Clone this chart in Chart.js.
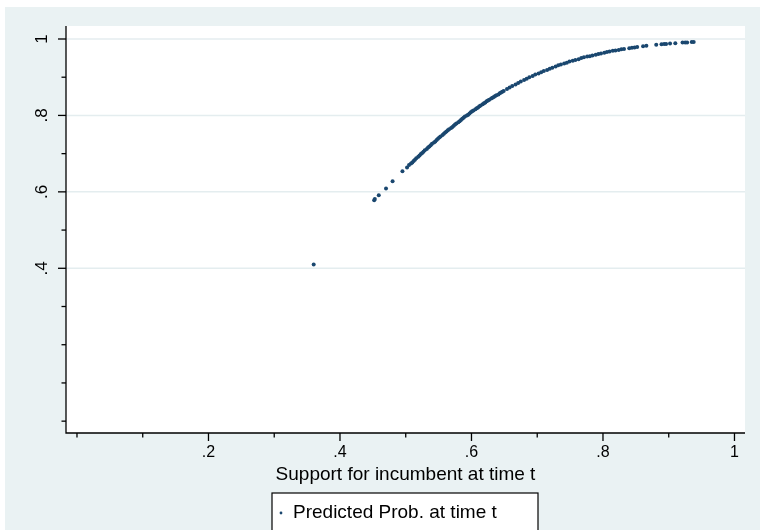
<!DOCTYPE html>
<html>
<head>
<meta charset="utf-8">
<script src="https://cdn.jsdelivr.net/npm/chart.js@4/dist/chart.umd.min.js"></script>
<style>
html,body{margin:0;padding:0;background:#ffffff;}
#wrap{width:760px;height:530px;}
</style>
</head>
<body>
<div id="wrap"><canvas id="c" width="760" height="530"></canvas></div>
<script>
// ---- data ----
const seriesLabel = "Predicted Prob. at time t";
const xAxisTitle = "Support for incumbent at time t";
const supportX = [
0.360,0.452,0.453,0.459,0.470,0.480,0.495,0.502,0.505,0.508,
0.510,0.512,0.514,0.516,0.519,0.521,0.523,0.525,0.527,0.529,
0.532,0.534,0.536,0.538,0.540,0.543,0.545,0.547,0.549,0.551,
0.553,0.556,0.558,0.560,0.562,0.564,0.566,0.569,0.571,0.573,
0.575,0.577,0.580,0.582,0.584,0.586,0.588,0.590,0.593,0.595,
0.597,0.599,0.601,0.603,0.606,0.608,0.610,0.612,0.614,0.617,
0.619,0.621,0.623,0.625,0.627,0.630,0.632,0.634,0.636,0.638,
0.641,0.643,0.645,0.647,0.649,0.654,0.658,0.662,0.667,0.671,
0.675,0.680,0.684,0.688,0.693,0.697,0.702,0.706,0.710,0.715,
0.719,0.723,0.728,0.732,0.736,0.741,0.745,0.749,0.754,0.758,
0.763,0.767,0.771,0.776,0.780,0.784,0.789,0.793,0.797,0.802,
0.806,0.810,0.815,0.819,0.824,0.828,0.832,0.840,0.844,0.848,
0.852,0.861,0.866,0.881,0.889,0.893,0.896,0.902,0.910,0.921,
0.925,0.928,0.935,0.938
];
const predProb = [
0.410,0.578,0.581,0.591,0.609,0.628,0.654,0.664,0.670,0.674,
0.677,0.681,0.684,0.688,0.692,0.695,0.699,0.702,0.705,0.709,
0.712,0.716,0.719,0.722,0.726,0.729,0.732,0.736,0.739,0.742,
0.745,0.749,0.752,0.755,0.758,0.761,0.764,0.767,0.770,0.773,
0.776,0.779,0.782,0.785,0.788,0.791,0.794,0.797,0.800,0.802,
0.805,0.808,0.811,0.813,0.816,0.819,0.821,0.824,0.826,0.829,
0.832,0.834,0.837,0.839,0.841,0.844,0.846,0.848,0.851,0.853,
0.855,0.858,0.860,0.862,0.864,0.869,0.873,0.877,0.881,0.885,
0.889,0.893,0.896,0.900,0.903,0.907,0.910,0.913,0.916,0.919,
0.922,0.925,0.928,0.931,0.933,0.936,0.938,0.941,0.943,0.945,
0.947,0.950,0.952,0.954,0.955,0.957,0.959,0.961,0.962,0.964,
0.966,0.967,0.969,0.970,0.971,0.973,0.974,0.976,0.977,0.978,
0.979,0.981,0.982,0.985,0.986,0.987,0.987,0.988,0.989,0.991,
0.991,0.991,0.992,0.992
];
const xMajorTicks = [0.2,0.4,0.6,0.8,1.0];
const xMajorLabels = [".2",".4",".6",".8","1"];
const xMinorTicks = [0,0.1,0.3,0.5,0.7,0.9];
const yMajorTicks = [0.4,0.6,0.8,1.0];
const yMajorLabels = [".4",".6",".8","1"];
const yMinorTicks = [0,0.1,0.2,0.3,0.5,0.7,0.9];

// ---- styling ----
const NAVY = "#1a476f";
const BG = "#eaf2f3";
const GRID = "#e4edef";
const FONT = '"Liberation Sans", Arial, Helvetica, sans-serif';

const stataPlugin = {
  id: "stata",
  beforeDraw(chart) {
    const ctx = chart.ctx, a = chart.chartArea, ys = chart.scales.y;
    ctx.save();
    ctx.fillStyle = "#ffffff";
    ctx.fillRect(0, 0, chart.width, chart.height);
    ctx.fillStyle = BG;
    ctx.fillRect(5, 7, chart.width - 5, chart.height - 7);
    ctx.fillStyle = "#ffffff";
    ctx.fillRect(a.left, a.top, a.right - a.left, a.bottom - a.top);
    ctx.strokeStyle = GRID;
    ctx.lineWidth = 1.5;
    yMajorTicks.forEach(v => {
      const y = ys.getPixelForValue(v);
      ctx.beginPath(); ctx.moveTo(a.left, y); ctx.lineTo(a.right, y); ctx.stroke();
    });
    ctx.restore();
  },
  afterDraw(chart) {
    const ctx = chart.ctx, a = chart.chartArea, xs = chart.scales.x, ys = chart.scales.y;
    ctx.save();
    ctx.strokeStyle = "#000000";
    ctx.lineWidth = 1.3;
    ctx.beginPath();
    ctx.moveTo(a.left, a.top); ctx.lineTo(a.left, a.bottom); ctx.lineTo(a.right, a.bottom);
    ctx.stroke();
    const tick = (x1, y1, x2, y2) => { ctx.beginPath(); ctx.moveTo(x1, y1); ctx.lineTo(x2, y2); ctx.stroke(); };
    xMajorTicks.forEach(v => { const x = xs.getPixelForValue(v); tick(x, a.bottom, x, a.bottom + 8); });
    xMinorTicks.forEach(v => { const x = xs.getPixelForValue(v); tick(x, a.bottom, x, a.bottom + 4.5); });
    yMajorTicks.forEach(v => { const y = ys.getPixelForValue(v); tick(a.left, y, a.left - 8, y); });
    yMinorTicks.forEach(v => { const y = ys.getPixelForValue(v); tick(a.left, y, a.left - 4.5, y); });
    ctx.fillStyle = "#000000";
    ctx.font = "16px " + FONT;
    ctx.textAlign = "center";
    ctx.textBaseline = "middle";
    xMajorTicks.forEach((v, i) => {
      ctx.fillText(xMajorLabels[i], xs.getPixelForValue(v), a.bottom + 20);
    });
    ctx.font = "17px " + FONT;
    yMajorTicks.forEach((v, i) => {
      ctx.save();
      ctx.translate(a.left - 23.5, ys.getPixelForValue(v));
      ctx.rotate(-Math.PI / 2);
      ctx.fillText(yMajorLabels[i], 0, 0);
      ctx.restore();
    });
    ctx.font = "19px " + FONT;
    ctx.fillText(xAxisTitle, (a.left + a.right) / 2, 475);
    const lx = 272, lr = 538, lt = 493;
    ctx.fillStyle = "#ffffff";
    ctx.fillRect(lx, lt, lr - lx, chart.height - lt + 5);
    ctx.lineWidth = 1.2;
    ctx.strokeStyle = "#000000";
    ctx.strokeRect(lx, lt, lr - lx, chart.height - lt + 10);
    ctx.fillStyle = NAVY;
    ctx.beginPath(); ctx.arc(281, 513, 1.4, 0, Math.PI * 2); ctx.fill();
    ctx.fillStyle = "#000000";
    ctx.textAlign = "left";
    ctx.fillText(seriesLabel, 293, 513);
    ctx.restore();
  }
};

new Chart(document.getElementById("c"), {
  type: "scatter",
  data: {
    datasets: [{
      label: seriesLabel,
      data: supportX.map((x, i) => ({ x: x, y: predProb[i] })),
      backgroundColor: NAVY,
      borderColor: NAVY,
      borderWidth: 0,
      pointRadius: 2.0,
      pointHoverRadius: 2.0
    }]
  },
  options: {
    responsive: false,
    animation: false,
    devicePixelRatio: 1,
    layout: { padding: { left: 66, top: 26, right: 15, bottom: 97 } },
    plugins: { legend: { display: false }, tooltip: { enabled: false } },
    scales: {
      x: { type: "linear", min: -0.0167, max: 1.016, display: false },
      y: { type: "linear", min: -0.031, max: 1.034, display: false }
    }
  },
  plugins: [stataPlugin]
});
</script>
</body>
</html>
